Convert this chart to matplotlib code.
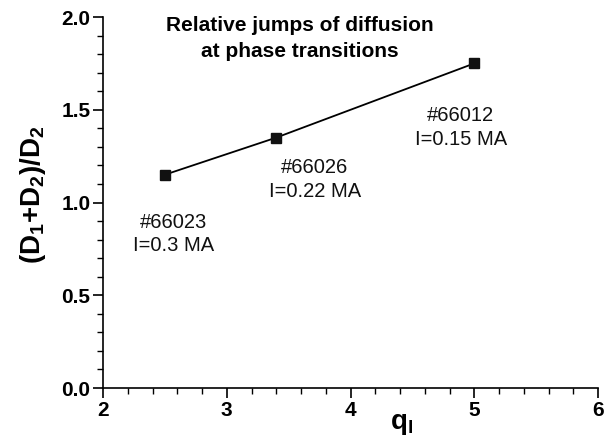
import matplotlib
matplotlib.use("agg")
import matplotlib.pyplot as plt
from matplotlib.ticker import MultipleLocator, FormatStrFormatter

plt.rcParams["font.family"] = ["Liberation Sans", "DejaVu Sans"]
plt.rcParams["mathtext.fontset"] = "custom"
plt.rcParams["mathtext.rm"] = "Liberation Sans:bold"
plt.rcParams["mathtext.bf"] = "Liberation Sans:bold"
plt.rcParams["mathtext.it"] = "Liberation Sans:bold"

# data
q_l = [2.5, 3.4, 5.0]
ratio = [1.15, 1.35, 1.75]
shots = ["#66023", "#66026", "#66012"]
currents = ["I=0.3 MA", "I=0.22 MA", "I=0.15 MA"]
label_pos = [(2.57, 0.83), (3.71, 1.125), (4.89, 1.405)]

fig = plt.figure(figsize=(6.15, 4.36), dpi=100)
ax = fig.add_axes([0.1675, 0.110, 0.805, 0.851])

ax.plot(q_l, ratio, color="black", lw=1.3, marker="s", ms=7.5,
        markerfacecolor="#111111", markeredgecolor="#111111")

# shot / current annotations under each point
for (x, y), s, c in zip(label_pos, shots, currents):
    ax.text(x, y, f"{s}\n{c}", ha="center", va="center", fontsize=14.5,
            linespacing=1.32, color="#111111")

ax.text(3.59, 1.884, "Relative jumps of diffusion\nat phase transitions",
        ha="center", va="center", fontsize=15, fontweight="bold",
        linespacing=1.42)

ax.set_xlim(2, 6)
ax.set_ylim(0, 2.0)
ax.xaxis.set_major_locator(MultipleLocator(1))
ax.xaxis.set_minor_locator(MultipleLocator(0.2))
ax.yaxis.set_major_locator(MultipleLocator(0.5))
ax.yaxis.set_minor_locator(MultipleLocator(0.1))
ax.yaxis.set_major_formatter(FormatStrFormatter("%.1f"))

for side in ["top", "right"]:
    ax.spines[side].set_visible(False)
for side in ["left", "bottom"]:
    ax.spines[side].set_linewidth(1.2)

ax.tick_params(which="major", direction="out", length=7, width=1.2,
               labelsize=15, pad=2)
ax.tick_params(which="minor", direction="out", length=4, width=1.0)
for lbl in ax.get_xticklabels() + ax.get_yticklabels():
    lbl.set_fontweight("bold")

ax.set_ylabel(r"(D$_1$+D$_2$)/D$_2$", fontsize=20, fontweight="bold")
ax.yaxis.set_label_coords(-0.112, 0.52)
ax.set_xlabel(r"q$_l$", fontsize=20, fontweight="bold")
ax.xaxis.set_label_coords(0.604, -0.062)

fig.savefig("out.png", dpi=100)
